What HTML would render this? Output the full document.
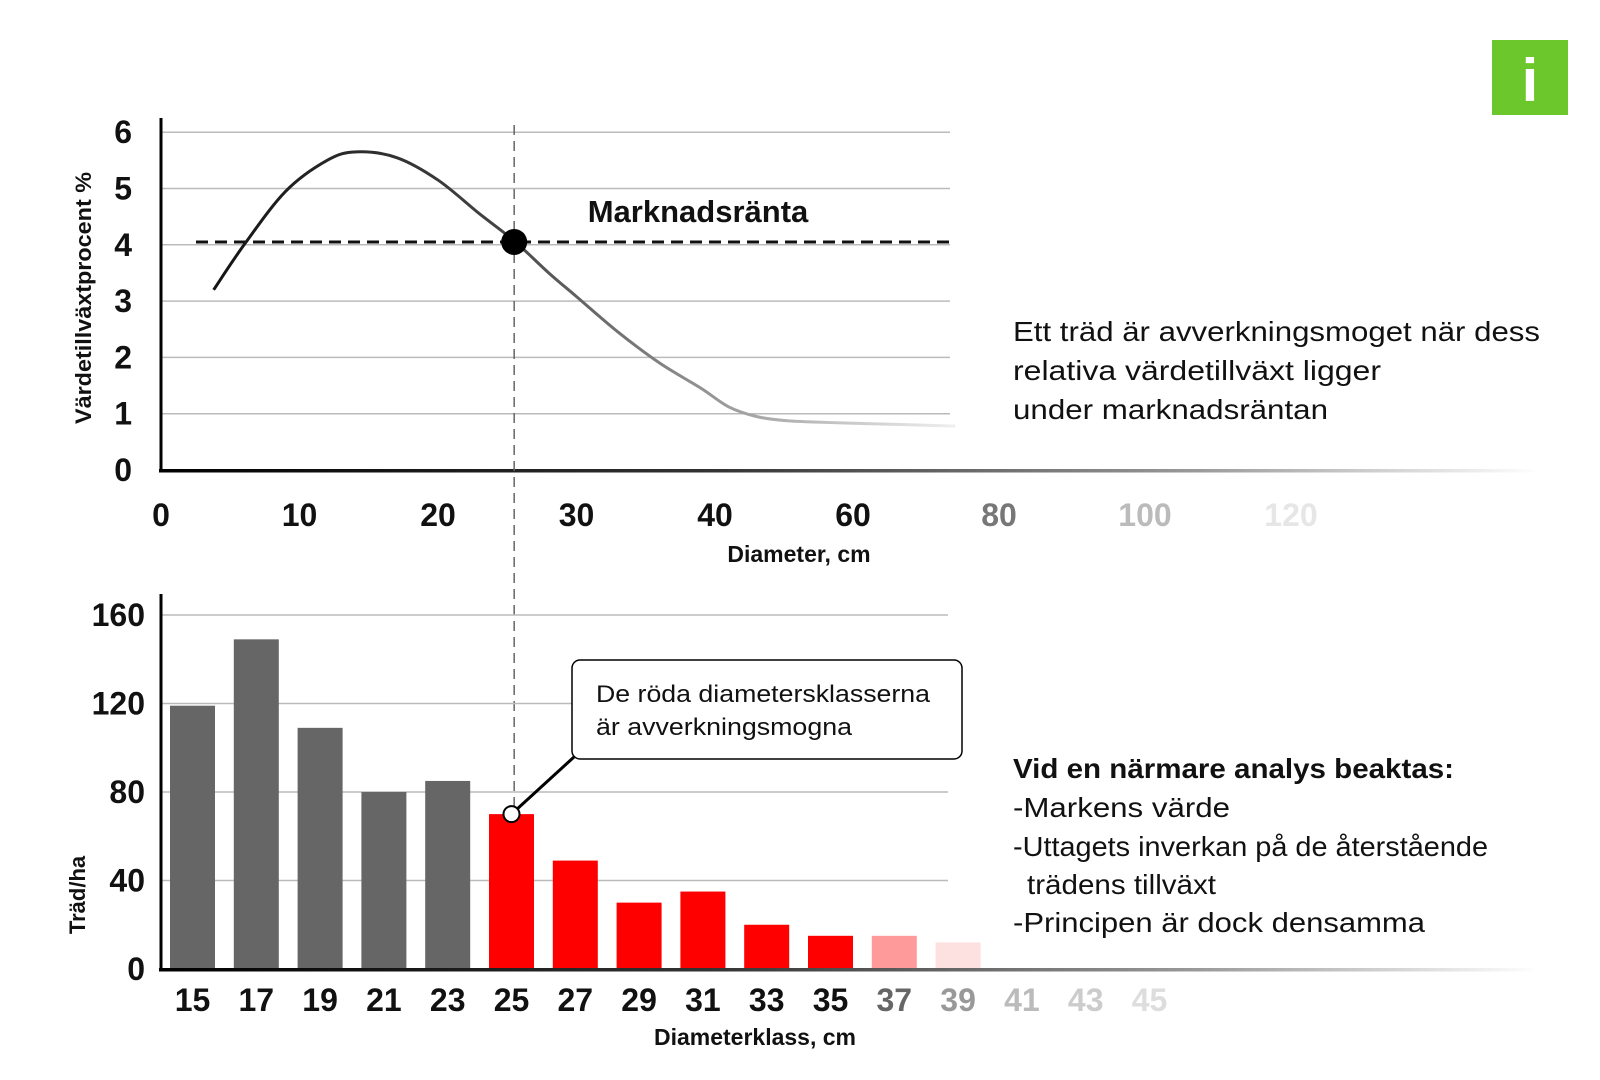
<!DOCTYPE html>
<html><head><meta charset="utf-8"><style>
html,body{margin:0;padding:0;background:#fff;}
svg{display:block;font-family:"Liberation Sans",sans-serif;}
</style></head><body>
<svg id="chart" width="1600" height="1080" viewBox="0 0 1600 1080">
<defs>
<linearGradient id="axisFade" x1="0" x2="1" y1="0" y2="0">
<stop offset="0" stop-color="#000"/><stop offset="0.4" stop-color="#333"/><stop offset="0.75" stop-color="#999"/><stop offset="1" stop-color="#fff"/>
</linearGradient>
<linearGradient id="curveFade" gradientUnits="userSpaceOnUse" x1="200" x2="952" y1="0" y2="0">
<stop offset="0" stop-color="#111"/><stop offset="0.4" stop-color="#444"/><stop offset="0.75" stop-color="#aaa"/><stop offset="1" stop-color="#eee"/>
</linearGradient>
</defs>
<g id="topChart"></g>
<g id="bottomChart"></g>
<rect x="1492" y="40" width="76" height="75" fill="#6cc72c"/>
<text x="1530" y="101" text-anchor="middle" font-size="60" font-weight="bold" fill="#fff">i</text>
<text x="1013" y="341" font-size="28" fill="#111" textLength="527" lengthAdjust="spacingAndGlyphs">Ett träd är avverkningsmoget när dess</text>
<text x="1013" y="380" font-size="28" fill="#111" textLength="368" lengthAdjust="spacingAndGlyphs">relativa värdetillväxt ligger</text>
<text x="1013" y="419" font-size="28" fill="#111" textLength="315" lengthAdjust="spacingAndGlyphs">under marknadsräntan</text>
<text x="1013" y="778" font-size="28" font-weight="bold" fill="#111" textLength="441" lengthAdjust="spacingAndGlyphs">Vid en närmare analys beaktas:</text>
<text x="1013" y="817" font-size="28" fill="#111" textLength="217" lengthAdjust="spacingAndGlyphs">-Markens värde</text>
<text x="1013" y="856" font-size="28" fill="#111" textLength="475" lengthAdjust="spacingAndGlyphs">-Uttagets inverkan på de återstående</text>
<text x="1027" y="894" font-size="28" fill="#111" textLength="189" lengthAdjust="spacingAndGlyphs">trädens tillväxt</text>
<text x="1013" y="932" font-size="28" fill="#111" textLength="412" lengthAdjust="spacingAndGlyphs">-Principen är dock densamma</text>
</svg>
<script>
const NS="http://www.w3.org/2000/svg";
// Top chart data
const topYTicks=[0,1,2,3,4,5,6];
const topXTicks=[0,10,20,30,40,60,80,100,120];
const topXTickColors=["#111","#111","#111","#111","#111","#111","#777","#bbb","#e6e6e6"];
const curveX=[3.8,6,9,12,14.1,17,20,23,25.5,28,30,33,36,39,42,46,50,55,60,66,74];
const curveY=[3.2,4.0,4.95,5.5,5.65,5.55,5.15,4.55,4.07,3.5,3.08,2.45,1.9,1.45,1.12,0.95,0.88,0.85,0.83,0.81,0.78];
const marketRate=[4.05];
const cutDiameter=[25.5];
// Bottom chart data
const classes=["15","17","19","21","23","25","27","29","31","33","35","37","39","41","43","45"];
const trees=[119,149,109,80,85,70,49,30,35,20,15,15,12,0,0,0];
const barColors=["#666","#666","#666","#666","#666","#f00","#f00","#f00","#f00","#f00","#f00","#ff9a9a","#fde0e0","#fff","#fff","#fff"];
const labelColors=["#111","#111","#111","#111","#111","#111","#111","#111","#111","#111","#111","#666","#999","#bbb","#ccc","#ddd"];
const bottomYTicks=[0,40,80,120,160];

function el(parent,tag,attrs,text){const e=document.createElementNS(NS,tag);for(const k in attrs)e.setAttribute(k,attrs[k]);if(text!==undefined)e.textContent=text;parent.appendChild(e);return e;}

const tY=v=>470-v*56.3;
const tX=d=>d<=40?161+d*13.85:(d<=60?715+(d-40)/20*138:853+(d-60)*7.3);
const topG=document.getElementById('topChart');
topYTicks.forEach(v=>{
  if(v>0){const g=el(topG,'line',{x1:161,x2:950,y1:tY(v),y2:tY(v),stroke:'#bbb','stroke-width':1.5});
  
  }
  const t=el(topG,'text',{x:132,y:tY(v)+11,'text-anchor':'end','font-size':32,'font-weight':'bold',fill:'#111'},String(v));
  
  
});
topXTicks.forEach((v,i)=>{
  const t=el(topG,'text',{x:tX(v),y:526,'text-anchor':'middle','font-size':32,'font-weight':'bold',fill:topXTickColors[i]},String(v));
  
  
});
let yAx=el(topG,'line',{x1:161,x2:161,y1:118,y2:472,stroke:'#000','stroke-width':3});


let xAx=el(topG,'rect',{x:159,y:469,width:1380,height:3.5,fill:'url(#axisFade)'});


let yt=el(topG,'text',{x:0,y:0,'text-anchor':'middle','font-size':22,'font-weight':'bold',fill:'#111',textLength:252,lengthAdjust:'spacingAndGlyphs',transform:'translate(91,298) rotate(-90)'},'Värdetillväxtprocent %');


let xt=el(topG,'text',{x:799,y:562,'text-anchor':'middle','font-size':23,'font-weight':'bold',fill:'#111'},'Diameter, cm');


let vd=el(topG,'line',{x1:tX(cutDiameter[0]),x2:tX(cutDiameter[0]),y1:125,y2:969,stroke:'#666','stroke-width':1.5,'stroke-dasharray':'10,6'});


let mr=el(topG,'line',{x1:196,x2:952,y1:tY(marketRate[0]),y2:tY(marketRate[0]),stroke:'#111','stroke-width':3,'stroke-dasharray':'12,7'});


let ml=el(topG,'text',{x:698,y:222,'text-anchor':'middle','font-size':31,'font-weight':'bold',fill:'#111'},'Marknadsränta');


const pts=curveX.map((x,i)=>[tX(x),tY(curveY[i])]);
let d='M'+pts[0][0]+','+pts[0][1];
for(let i=0;i<pts.length-1;i++){const p0=pts[i-1]||pts[i],p1=pts[i],p2=pts[i+1],p3=pts[i+2]||p2;
d+=` C${p1[0]+(p2[0]-p0[0])/6},${p1[1]+(p2[1]-p0[1])/6} ${p2[0]-(p3[0]-p1[0])/6},${p2[1]-(p3[1]-p1[1])/6} ${p2[0]},${p2[1]}`;}
let cv=el(topG,'path',{d:d,fill:'none',stroke:'url(#curveFade)','stroke-width':3});


let dot=el(topG,'circle',{cx:tX(cutDiameter[0]),cy:tY(marketRate[0]),r:13,fill:'#000'});



const bY=v=>969-v*2.2125;
const bX=i=>192.5+i*63.8;
const bottomG=document.getElementById('bottomChart');
bottomYTicks.forEach(v=>{
  if(v>0){const g=el(bottomG,'line',{x1:161,x2:948,y1:bY(v),y2:bY(v),stroke:'#bbb','stroke-width':1.5});
  
  }
  const t=el(bottomG,'text',{x:145,y:bY(v)+11,'text-anchor':'end','font-size':32,'font-weight':'bold',fill:'#111'},String(v));
  
  
});
classes.forEach((c,i)=>{
  if(trees[i]>0){const b=el(bottomG,'rect',{x:bX(i)-22.5,y:bY(trees[i]),width:45,height:bY(0)-bY(trees[i]),fill:barColors[i]});
  
  }
  const t=el(bottomG,'text',{x:bX(i),y:1011,'text-anchor':'middle','font-size':32,'font-weight':'bold',fill:labelColors[i]},c);
  
  
});
yAx=el(bottomG,'line',{x1:161,x2:161,y1:594,y2:971,stroke:'#000','stroke-width':3});


xAx=el(bottomG,'rect',{x:159,y:968,width:1380,height:3.5,fill:'url(#axisFade)'});


yt=el(bottomG,'text',{x:0,y:0,'text-anchor':'middle','font-size':22,'font-weight':'bold',fill:'#111',transform:'translate(85,895) rotate(-90)'},'Träd/ha');


xt=el(bottomG,'text',{x:755,y:1045,'text-anchor':'middle','font-size':23,'font-weight':'bold',fill:'#111'},'Diameterklass, cm');


const cx0=bX(5), cy0=bY(trees[5]);
let ln=el(bottomG,'line',{x1:cx0,y1:cy0,x2:574,y2:757,stroke:'#000','stroke-width':3});


let box=el(bottomG,'rect',{x:572,y:660,width:390,height:99,rx:8,fill:'#fff',stroke:'#000','stroke-width':1.5});


let c1=el(bottomG,'text',{x:596,y:702,'font-size':24,fill:'#111',textLength:334,lengthAdjust:'spacingAndGlyphs'},'De röda diametersklasserna');


let c2=el(bottomG,'text',{x:596,y:735,'font-size':24,fill:'#111',textLength:256,lengthAdjust:'spacingAndGlyphs'},'är avverkningsmogna');


let oc=el(bottomG,'circle',{cx:cx0,cy:cy0,r:8,fill:'#fff',stroke:'#000','stroke-width':2});


</script>
</body></html>
